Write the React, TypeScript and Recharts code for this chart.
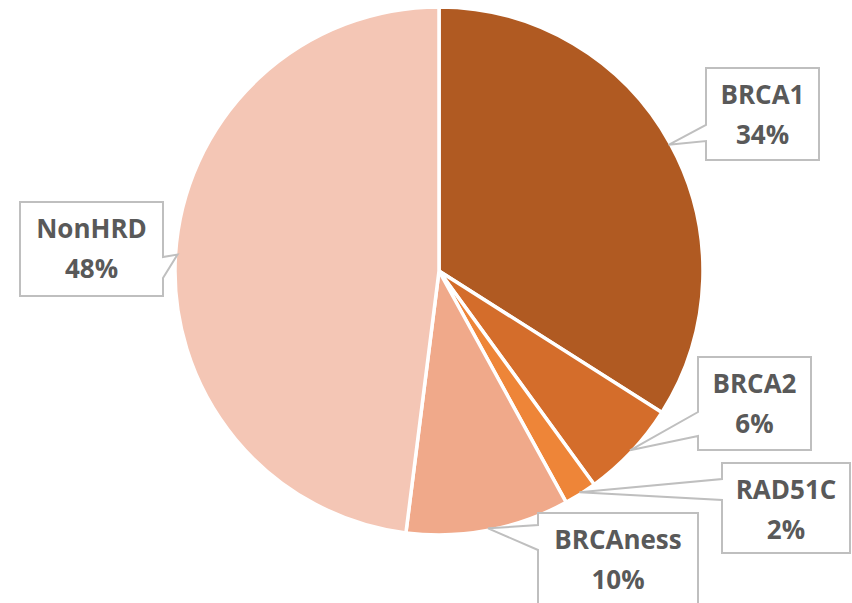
import { Cell, Pie, PieChart } from "recharts";

const categories = ["BRCA1", "BRCA2", "RAD51C", "BRCAness", "NonHRD"];
const shares = [34, 6, 2, 10, 48];
const colors = ["#B05A22", "#D46D2B", "#EE8538", "#F0A98A", "#F4C6B5"];

// callout boxes (Excel-style), placed by hand around the pie
const boxes = [
  { x: 706, y: 68, w: 113, h: 92, side: "left", a: 125, b: 141 },
  { x: 698, y: 357, w: 113, h: 93, side: "left", a: 412, b: 436 },
  { x: 722, y: 463, w: 128, h: 90, side: "left", a: 479, b: 500 },
  { x: 538, y: 513, w: 160, h: 100, side: "left", a: 525, b: 550 },
  { x: 20, y: 202, w: 143, h: 94, side: "right", a: 257, b: 278 },
];

const data = categories.map((name, i) => ({ name, value: shares[i] }));
const total = shares.reduce((s, v) => s + v, 0);
const RAD = Math.PI / 180;
const FONT = "'Open Sans', 'Liberation Sans', sans-serif";

function Callout(props: any) {
  const { cx, cy, midAngle, outerRadius, index, name, value } = props;
  const box = boxes[index];
  const tx = cx + (outerRadius - 2) * Math.cos(-midAngle * RAD);
  const ty = cy + (outerRadius - 2) * Math.sin(-midAngle * RAD);
  const x0 = box.x;
  const x1 = box.x + box.w;
  const y0 = box.y;
  const y1 = box.y + box.h;
  const d =
    box.side === "left"
      ? `M${x0},${y0} L${x1},${y0} L${x1},${y1} L${x0},${y1} L${x0},${box.b} L${tx},${ty} L${x0},${box.a} Z`
      : `M${x0},${y0} L${x1},${y0} L${x1},${box.a} L${tx},${ty} L${x1},${box.b} L${x1},${y1} L${x0},${y1} Z`;
  const mid = (x0 + x1) / 2;
  const pct = Math.round((value / total) * 100);
  return (
    <g>
      <path d={d} fill="#FFFFFF" stroke="#BFBFBF" strokeWidth={2} />
      <text x={mid} y={y0 + 36} textAnchor="middle" fill="#595959" fontFamily={FONT} fontWeight="bold" fontSize={26}>
        {name}
      </text>
      <text x={mid} y={y0 + 76} textAnchor="middle" fill="#595959" fontFamily={FONT} fontWeight="bold" fontSize={26}>
        {pct}%
      </text>
    </g>
  );
}

export default function App() {
  return (
    <div style={{ position: "absolute", left: 0, top: 0, width: 852, height: 603, background: "#fff" }}>
      <PieChart width={852} height={603} margin={{ top: 0, right: 0, bottom: 0, left: 0 }}>
        <Pie
          data={data}
          dataKey="value"
          nameKey="name"
          cx={439}
          cy={271}
          outerRadius={264}
          startAngle={90}
          endAngle={-270}
          stroke="#FFFFFF"
          strokeWidth={3.5}
          label={Callout}
          labelLine={false}
          isAnimationActive={false}
        >
          {data.map((d, i) => (
            <Cell key={d.name} fill={colors[i]} />
          ))}
        </Pie>
      </PieChart>
    </div>
  );
}
